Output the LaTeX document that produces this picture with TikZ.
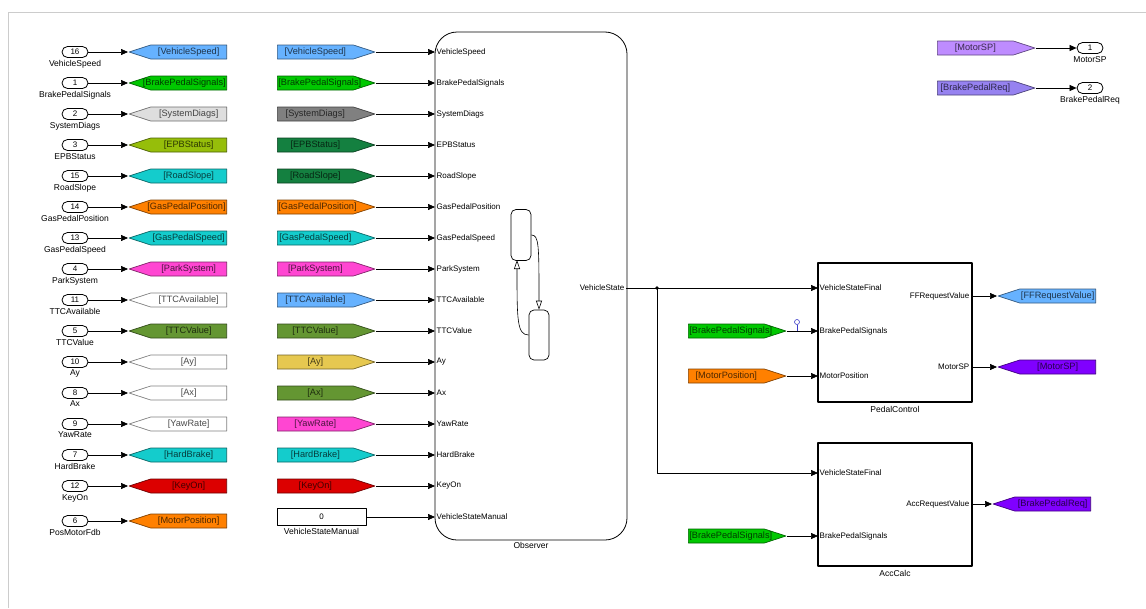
\documentclass[tikz,border=0pt]{standalone}
\usepackage{fontspec}
\setmainfont{Liberation Sans}
\usetikzlibrary{arrows.meta,shapes.misc,shapes.symbols,positioning}

\definecolor{tagblue}{RGB}{102,178,255}
\definecolor{taggreen}{RGB}{0,200,0}
\definecolor{taglgray}{RGB}{222,222,222}
\definecolor{tagdgray}{RGB}{128,128,128}
\definecolor{taglime}{RGB}{150,190,10}
\definecolor{tagdkgreen}{RGB}{20,128,64}
\definecolor{tagcyan}{RGB}{20,204,204}
\definecolor{tagorange}{RGB}{255,128,0}
\definecolor{tagmagenta}{RGB}{255,70,210}
\definecolor{tagolive}{RGB}{100,150,50}
\definecolor{tagyellow}{RGB}{230,200,80}
\definecolor{tagred}{RGB}{220,0,0}
\definecolor{tagviolet}{RGB}{128,0,255}
\definecolor{taglav}{RGB}{190,140,255}
\definecolor{tagslate}{RGB}{150,130,240}
\definecolor{tpblue}{RGB}{60,60,200}

% tag text: centred, long names spill towards the pointer
\newcommand{\gotolbl}[1]{\hbox to 74pt{\hss#1\hfil}}
\newcommand{\fromlbl}[1]{\hbox to 74pt{\hfil#1\hss}}

\tikzset{
  lbl/.style={font=\fontsize{8.5}{10}\selectfont,inner sep=1pt},
  plabel/.style={font=\fontsize{8}{9}\selectfont,inner sep=1.5pt},
  port/.style={draw,rounded rectangle,line width=0.8pt,minimum width=26pt,
    minimum height=11pt,inner sep=0pt,font=\fontsize{8}{9}\selectfont},
  tagbase/.style={signal,signal pointer angle=36,line width=0.7pt,
    minimum height=14pt,inner sep=1pt,anchor=west,
    font=\fontsize{9.2}{10}\selectfont},
  gototag/.style={tagbase,signal to=west,draw=#1!50!black,fill=#1,text=#1!30!black},
  fromtag/.style={tagbase,signal to=east,draw=#1!50!black,fill=#1,text=#1!30!black},
  blk/.style={draw,line width=1.3pt,inner sep=0pt},
  chartstate/.style={draw,rounded corners=5pt,line width=0.7pt,minimum width=20pt,inner sep=0pt}
}

\begin{document}
\begin{tikzpicture}[x=1pt,y=-1pt,>={Triangle[length=7pt,width=6pt]},line join=round]
  \useasboundingbox (0,0) rectangle (1146,608);
  \draw[black!20,line width=1pt] (8,608) -- (8,12) -- (1146,12);

  % inports and goto tags
  \foreach \i/\y/\num/\name/\tag/\col in {
      0/52/16/VehicleSpeed/VehicleSpeed/tagblue,
      1/83/1/BrakePedalSignals/BrakePedalSignals/taggreen,
      2/114/2/SystemDiags/SystemDiags/taglgray,
      3/145/3/EPBStatus/EPBStatus/taglime,
      4/176/15/RoadSlope/RoadSlope/tagcyan,
      5/207/14/GasPedalPosition/GasPedalPosition/tagorange,
      6/238/13/GasPedalSpeed/GasPedalSpeed/tagcyan,
      7/269/4/ParkSystem/ParkSystem/tagmagenta,
      8/300/11/TTCAvailable/TTCAvailable/white,
      9/331/5/TTCValue/TTCValue/tagolive,
      10/362/10/Ay/Ay/white,
      11/393/8/Ax/Ax/white,
      12/424/9/YawRate/YawRate/white,
      13/455/7/HardBrake/HardBrake/tagcyan,
      14/486/12/KeyOn/KeyOn/tagred,
      15/521/6/PosMotorFdb/MotorPosition/tagorange} {
    \node[port] (in\i) at (75,\y) {\num};
    \node[lbl,below=1pt of in\i] (inlbl\i) {\name};
    \node[gototag=\col] (goto\i) at (128,\y) {\gotolbl{[\tag]}};
    \draw[->,line width=0.7pt] (in\i.east) -- (goto\i.west);
  }

  % observer chart
  \node[draw,rounded corners=22pt,line width=0.8pt,minimum width=192pt,
    minimum height=508pt] (obs) at (531,286) {};
  \node[lbl,below=1pt of obs] (obslbl) {Observer};
  \foreach \i/\y/\name in {0/52/VehicleSpeed,1/83/BrakePedalSignals,2/114/SystemDiags,
      3/145/EPBStatus,4/176/RoadSlope,5/207/GasPedalPosition,6/238/GasPedalSpeed,
      7/269/ParkSystem,8/300/TTCAvailable,9/331/TTCValue,10/362/Ay,11/393/Ax,
      12/424/YawRate,13/455/HardBrake,14/486/KeyOn,15/517/VehicleStateManual} {
    \node[plabel,anchor=west] (obsin\i) at (435,\y) {\name};
  }
  \node[chartstate,minimum height=51pt] (st1) at (521,235) {};
  \node[chartstate,minimum height=50pt] (st2) at (539,335) {};
  \draw[-{Triangle[open,length=9pt,width=6pt]},line width=0.6pt]
    (st1.east) .. controls (539,235) and (539,245) .. (st2.north);
  \draw[-{Triangle[open,length=9pt,width=6pt]},line width=0.6pt]
    (st2.west) .. controls (517,335) and (517,320) .. (517,260);
  \node[plabel,anchor=east] (vstate) at (626,288) {VehicleState};

  % from tags into the chart
  \foreach \i/\y/\name/\col in {0/52/VehicleSpeed/tagblue,1/83/BrakePedalSignals/taggreen,
      2/114/SystemDiags/tagdgray,3/145/EPBStatus/tagdkgreen,4/176/RoadSlope/tagdkgreen,
      5/207/GasPedalPosition/tagorange,6/238/GasPedalSpeed/tagcyan,
      7/269/ParkSystem/tagmagenta,8/300/TTCAvailable/tagblue,9/331/TTCValue/tagolive,
      10/362/Ay/tagyellow,11/393/Ax/tagolive,12/424/YawRate/tagmagenta,
      13/455/HardBrake/tagcyan,14/486/KeyOn/tagred} {
    \node[fromtag=\col] (from\i) at (277,\y) {\fromlbl{[\name]}};
    \draw[->,line width=0.7pt] (from\i.east) -- (obsin\i.west);
  }
  \node[draw,line width=0.8pt,minimum width=89pt,minimum height=17pt,inner sep=0pt,
    font=\fontsize{8}{9}\selectfont] (cst) at (321.5,517) {0};
  \node[lbl,below=1pt of cst] (cstlbl) {VehicleStateManual};
  \draw[->,line width=0.7pt] (cst.east) -- (obsin15.west);

  % PedalControl
  \node[blk,minimum width=154pt,minimum height=139pt] (pc) at (895,332.5) {};
  \node[lbl,below=2pt of pc] (pclbl) {PedalControl};
  \node[plabel,anchor=west] (pcin0) at (818,288) {VehicleStateFinal};
  \node[plabel,anchor=west] (pcin1) at (818,331) {BrakePedalSignals};
  \node[plabel,anchor=west] (pcin2) at (818,376) {MotorPosition};
  \node[plabel,anchor=east] (pcout0) at (971,296) {FFRequestValue};
  \node[plabel,anchor=east] (pcout1) at (971,367) {MotorSP};

  % AccCalc
  \node[blk,minimum width=154pt,minimum height=123pt] (ac) at (895,504.5) {};
  \node[lbl,below=2pt of ac] (aclbl) {AccCalc};
  \node[plabel,anchor=west] (acin0) at (818,473) {VehicleStateFinal};
  \node[plabel,anchor=west] (acin1) at (818,536) {BrakePedalSignals};
  \node[plabel,anchor=east] (acout0) at (971,504) {AccRequestValue};

  % state signal and branch
  \coordinate (jn) at (657,288);
  \fill (jn) circle (1.8pt);
  \draw[->,line width=0.7pt] (vstate.east) -- (pcin0.west);
  \draw[->,line width=0.7pt] (jn) |- (acin0.west);

  % local from tags
  \node[fromtag=taggreen] (fbps0) at (688,331) {\fromlbl{[BrakePedalSignals]}};
  \node[fromtag=tagorange] (fmpos) at (688,376) {\fromlbl{[MotorPosition]}};
  \node[fromtag=taggreen] (fbps1) at (688,536) {\fromlbl{[BrakePedalSignals]}};
  \draw[->,line width=0.7pt] (fbps0.east) -- (pcin1.west);
  \draw[->,line width=0.7pt] (fmpos.east) -- (pcin2.west);
  \draw[->,line width=0.7pt] (fbps1.east) -- (acin1.west);
  \draw[tpblue,line width=0.6pt] (797,331) -- (797,324.5);
  \draw[tpblue,line width=0.6pt] (797,322) circle (2.5pt);

  % goto tags for the outputs
  \node[gototag=tagblue] (gff) at (997,296) {\gotolbl{[FFRequestValue]}};
  \node[gototag=tagviolet] (gmsp) at (997,367) {\gotolbl{[MotorSP]}};
  \node[gototag=tagviolet] (gbpr) at (992,504) {\gotolbl{[BrakePedalReq]}};
  \draw[->,line width=0.7pt] (pcout0.east) -- (gff.west);
  \draw[->,line width=0.7pt] (pcout1.east) -- (gmsp.west);
  \draw[->,line width=0.7pt] (acout0.east) -- (gbpr.west);

  % outports
  \node[fromtag=taglav] (fmsp) at (937,48) {\fromlbl{[MotorSP]}};
  \node[fromtag=tagslate] (fbpr) at (937,88) {\fromlbl{[BrakePedalReq]}};
  \node[port] (out1) at (1090,48) {1};
  \node[port] (out2) at (1090,88) {2};
  \node[lbl,below=1pt of out1] (out1lbl) {MotorSP};
  \node[lbl,below=1pt of out2] (out2lbl) {BrakePedalReq};
  \draw[->,line width=0.7pt] (fmsp.east) -- (out1.west);
  \draw[->,line width=0.7pt] (fbpr.east) -- (out2.west);
\end{tikzpicture}
\end{document}
